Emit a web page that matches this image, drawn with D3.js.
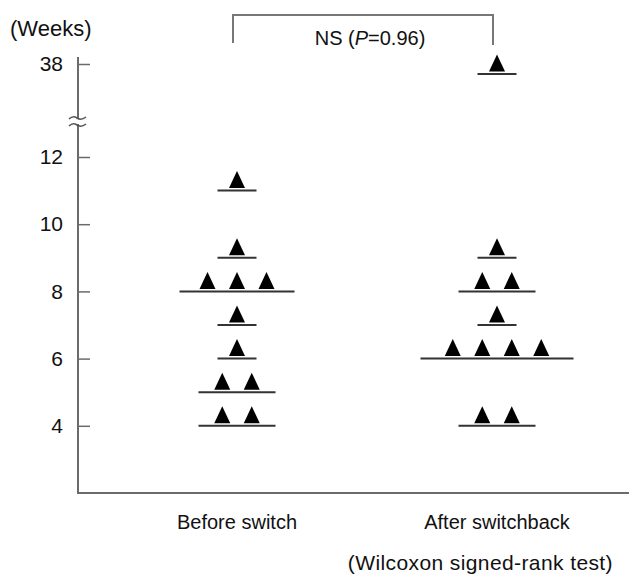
<!DOCTYPE html>
<html>
<head>
<meta charset="utf-8">
<script src="https://cdn.jsdelivr.net/npm/d3@7"></script>
<style>
  html, body { margin: 0; padding: 0; background: #fff; }
  svg { display: block; font-family: "Liberation Sans", Arial, sans-serif; }
</style>
</head>
<body>
<svg id="chart" width="629" height="574"></svg>
<script>
// ---- data ----
const categories = ["Before switch", "After switchback"];
const beforeWeeks = [11, 9, 8, 8, 8, 7, 6, 5, 5, 4, 4];
const afterWeeks = [37.7, 9, 8, 8, 7, 6, 6, 6, 6, 4, 4];
const lowerTicks = [4, 6, 8, 10, 12];
const upperTicks = [38];
const yUnit = "(Weeks)";
const testNote = "(Wilcoxon signed-rank test)";

const svg = d3.select("#chart");
const axisColor = "#6b6b6b";
const fontFam = "Liberation Sans, Arial, sans-serif";

// scales
const x = d3.scalePoint().domain(categories).range([107, 627]).padding(0.5);
const yLow = d3.scaleLinear().domain([2, 12]).range([493, 157]);
const pxPerWeek = (yLow(2) - yLow(12)) / 10;
const yHigh = d3.scaleLinear().domain([37, 39]).range([64 + pxPerWeek, 64 - pxPerWeek]);
const y = v => v > 20 ? yHigh(v) : yLow(v);
const axisX = 78;

// y axis (ticks point inward, labels on the left)
[[yLow, lowerTicks], [yHigh, upperTicks]].forEach(([sc, tv]) => {
  const g = svg.append("g").attr("transform", `translate(${axisX},0)`)
    .call(d3.axisLeft(sc).tickValues(tv).tickFormat(d3.format("d"))
      .tickSizeInner(-12).tickSizeOuter(0).tickPadding(15));
  g.select(".domain").remove();
  g.attr("font-size", null).attr("font-family", null);
});
svg.selectAll(".tick line").attr("stroke", axisColor).attr("stroke-width", 1.5);
svg.selectAll(".tick text").attr("font-size", 21).attr("fill", "#111").attr("font-family", fontFam);

// axis lines
svg.append("line").attr("x1", axisX).attr("x2", axisX).attr("y1", 57).attr("y2", 118)
  .attr("stroke", axisColor).attr("stroke-width", 2);
svg.append("line").attr("x1", axisX).attr("x2", axisX).attr("y1", 124).attr("y2", 493)
  .attr("stroke", axisColor).attr("stroke-width", 2);
svg.append("line").attr("x1", axisX - 1).attr("x2", 629).attr("y1", 493).attr("y2", 493)
  .attr("stroke", axisColor).attr("stroke-width", 2.2);

// break marks
[118, 125].forEach(yy => {
  svg.append("path")
    .attr("d", `M${axisX - 9},${yy + 1} q4,-4 8,-1 q4,3 9,-1`)
    .attr("fill", "none").attr("stroke", "#555").attr("stroke-width", 1.6);
});

// y unit label
svg.append("text").attr("x", 10).attr("y", 36).attr("font-size", 22).attr("fill", "#111").text(yUnit);

// data marks
function drawGroup(cat, vals) {
  const counts = d3.rollups(vals, v => v.length, d => d);
  const cx = x(cat);
  const spacing = 29.5;
  counts.forEach(([val, n]) => {
    const yy = y(val);
    const w = n * 38 + 1;
    svg.append("line").attr("x1", cx - w / 2).attr("x2", cx + w / 2)
      .attr("y1", yy).attr("y2", yy).attr("stroke", "#333").attr("stroke-width", 2);
    for (let i = 0; i < n; i++) {
      const tx = cx + (i - (n - 1) / 2) * spacing;
      const base = yy - 2.5;
      svg.append("path")
        .attr("d", `M${tx - 8},${base} L${tx + 8},${base} L${tx},${base - 17} Z`)
        .attr("fill", "#000");
    }
  });
}
drawGroup(categories[0], beforeWeeks);
drawGroup(categories[1], afterWeeks);

// category labels
svg.selectAll(".cat").data(categories).join("text")
  .attr("x", d => x(d)).attr("y", 529).attr("text-anchor", "middle")
  .attr("font-size", 20).attr("fill", "#111").text(d => d);

// significance bracket
const bx1 = x(categories[0]) - 4, bx2 = x(categories[1]) - 4;
svg.append("path").attr("d", `M${bx1},43 V15 H${bx2} V45`)
  .attr("fill", "none").attr("stroke", "#777").attr("stroke-width", 2);
const t = svg.append("text").attr("x", (bx1 + bx2) / 2 + 7).attr("y", 45)
  .attr("text-anchor", "middle").attr("font-size", 20).attr("fill", "#111");
t.append("tspan").text("NS (");
t.append("tspan").attr("font-style", "italic").text("P");
t.append("tspan").text("=0.96)");

svg.append("text").attr("x", 613).attr("y", 570).attr("text-anchor", "end")
  .attr("font-size", 21).attr("letter-spacing", 0.4).attr("fill", "#111").text(testNote);
</script>
</body>
</html>
